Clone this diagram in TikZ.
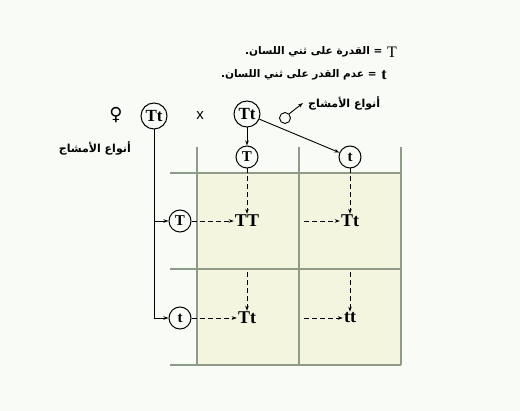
\documentclass[tikz,border=0pt]{standalone}
\usepackage{fontspec}
\usepackage{tikz}
\usetikzlibrary{arrows.meta,positioning,calc}
\TeXXeTstate=1
\setmainfont{Liberation Serif}
\setsansfont{Liberation Sans}
\newfontfamily\arabicfont[Script=Arabic]{DejaVu Sans}
\newfontfamily\symbfont{DejaVu Sans}
\definecolor{pagebg}{HTML}{F8FBF6}
\definecolor{cellfill}{HTML}{F3F5DF}
\definecolor{gridline}{HTML}{8E9B86}

\begin{document}
\begin{tikzpicture}[x=1pt, y=-1pt,
  par/.style={draw, circle, line width=1pt, inner sep=0pt, minimum size=26pt, font=\bfseries\fontsize{17}{17}\selectfont},
  gam/.style={draw, circle, line width=1pt, inner sep=0pt, minimum size=22pt, font=\bfseries\fontsize{15}{15}\selectfont},
  geno/.style={inner sep=1pt, font=\bfseries\fontsize{18}{18}\selectfont},
  lbl/.style={inner sep=0pt, font=\arabicfont\bfseries\fontsize{11}{13}\selectfont},
  keylbl/.style={lbl, font=\arabicfont\bfseries\fontsize{10.5}{12}\selectfont},
  gline/.style={gridline, line width=1.2pt},
  arr/.style={-{Stealth[length=5pt, width=3.5pt]}, line width=0.9pt},
  darr/.style={arr, dash pattern=on 5pt off 3pt}
]
  % page
  \fill[pagebg] (0,0) rectangle (520,411);
  \useasboundingbox (0,0) rectangle (520,411);

  % grid
  \coordinate (v1) at (197,147);
  \coordinate (v2) at (299,147);
  \coordinate (v3) at (401,147);
  \coordinate (h1) at (170,173);
  \coordinate (h2) at (170,269);
  \coordinate (h3) at (170,365);
  \fill[cellfill] (v1 |- h1) rectangle (v3 |- h3);
  \foreach \c in {v1,v2,v3} \draw[gline] (\c) -- (\c |- h3);
  \foreach \c in {h1,h2,h3} \draw[gline] (\c) -- (\c -| v3);

  % key
  \node[font=\fontsize{16}{16}\selectfont] (keyT) at (392,52) {T};
  \node[keylbl, left=1pt of keyT] (keyTx) {\beginR= القدرة على ثني اللسان.\endR};
  \node[font=\bfseries\fontsize{16}{16}\selectfont] (keyt) at (384,75) {t};
  \node[keylbl, left=1pt of keyt] (keytx) {\beginR= عدم القدر على ثني اللسان.\endR};

  % parents
  \node[font=\symbfont\fontsize{18}{18}\selectfont] (fem) at (116,115) {♀};
  \node[par] (pf) at (154,116) {Tt};
  \node[font=\sffamily\fontsize{15}{15}\selectfont] (cross) at (200,116) {x};
  \node[par] (pm) at (247,114) {Tt};
  \node[draw, circle, line width=0.9pt, inner sep=0pt, minimum size=11pt] (male) at (285,118) {};
  \node[lbl, anchor=west] (gm) at (308,103) {\beginR أنواع الأمشاج\endR};
  \node[lbl, anchor=east] (gf) at (131,148) {\beginR أنواع الأمشاج\endR};
  \draw[arr] (male.45) -- ([xshift=-5pt]gm.west);

  % gametes
  \node[gam] (mT) at (247,157) {T};
  \node[gam] (mt) at (350,157) {t};
  \node[gam] (fT) at (180,221) {T};
  \node[gam] (ft) at (180,318) {t};

  % offspring
  \node[geno] (g11) at (mT |- fT) {TT};
  \node[geno] (g12) at (mt |- fT) {Tt};
  \node[geno] (g21) at (mT |- ft) {Tt};
  \node[geno] (g22) at (mt |- ft) {tt};

  % gamete arrows
  \draw[arr] (pm) -- (mT);
  \draw[arr] (pm) -- (mt);
  \draw[arr] (pf.south) |- (ft);
  \draw[arr] (pf.south |- fT) -- (fT);

  % crossing
  \draw[darr] (mT) -- (g11);
  \draw[darr] (mt) -- (g12);
  \draw[darr] (fT) -- (g11);
  \draw[darr] (ft) -- (g21);
  \draw[darr] ([xshift=5pt]v2 |- g12) -- (g12);
  \draw[darr] ([xshift=5pt]v2 |- g22) -- (g22);
  \draw[darr] ([yshift=-3pt]h2 -| g21) -- (g21);
  \draw[darr] ([yshift=-3pt]h2 -| g22) -- (g22);
\end{tikzpicture}
\end{document}
